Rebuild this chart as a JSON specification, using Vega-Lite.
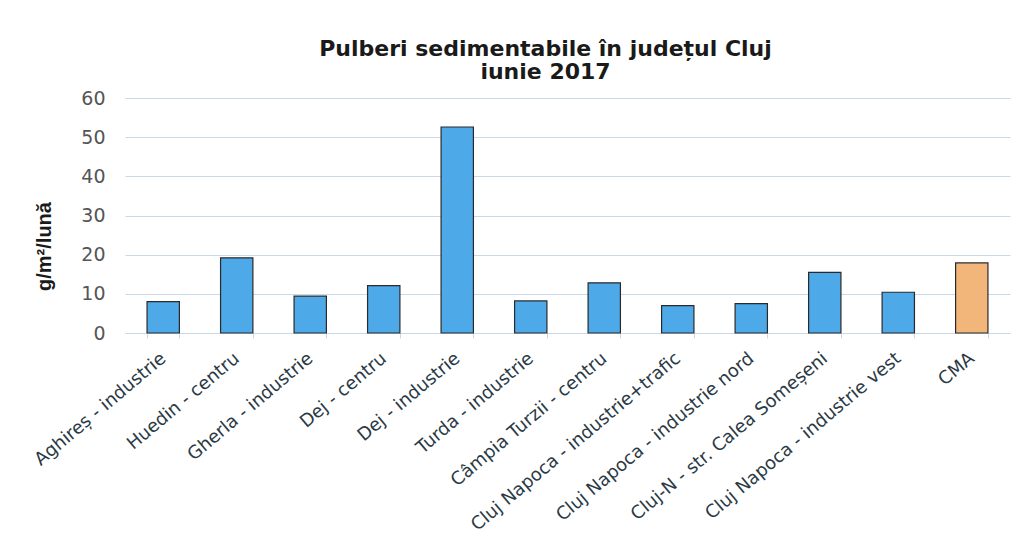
{
  "$schema": "https://vega.github.io/schema/vega-lite/v6.json",
  "width": 885,
  "height": 235,
  "autosize": "none",
  "padding": {"left": 125, "top": 98, "right": 1, "bottom": 212},
  "background": "white",
  "title": {
    "text": ["Pulberi sedimentabile în județul Cluj", "iunie 2017"],
    "font": "DejaVu Sans",
    "fontSize": 22,
    "fontWeight": "bold",
    "color": "#1a1a1a",
    "anchor": "middle",
    "dx": -22,
    "offset": 5,
    "lineHeight": 23
  },
  "data": {
    "values": [
      {"statie": "Aghireș - industrie", "valoare": 8.0, "tip": "statie"},
      {"statie": "Huedin - centru", "valoare": 19.2, "tip": "statie"},
      {"statie": "Gherla - industrie", "valoare": 9.4, "tip": "statie"},
      {"statie": "Dej - centru", "valoare": 12.1, "tip": "statie"},
      {"statie": "Dej - industrie", "valoare": 52.6, "tip": "statie"},
      {"statie": "Turda - industrie", "valoare": 8.2, "tip": "statie"},
      {"statie": "Câmpia Turzii - centru", "valoare": 12.8, "tip": "statie"},
      {"statie": "Cluj Napoca - industrie+trafic", "valoare": 7.0, "tip": "statie"},
      {"statie": "Cluj Napoca - industrie nord", "valoare": 7.5, "tip": "statie"},
      {"statie": "Cluj-N - str. Calea Someșeni", "valoare": 15.5, "tip": "statie"},
      {"statie": "Cluj Napoca - industrie vest", "valoare": 10.4, "tip": "statie"},
      {"statie": "CMA", "valoare": 17.9, "tip": "CMA"}
    ]
  },
  "mark": {"type": "bar", "stroke": "#2a2a2a", "strokeWidth": 1.2},
  "encoding": {
    "x": {
      "field": "statie",
      "type": "nominal",
      "sort": null,
      "scale": {"paddingInner": 0.56, "paddingOuter": 0.3},
      "axis": {
        "title": null,
        "labelAngle": -40,
        "labelAlign": "right",
        "labelBaseline": "middle",
        "labelFont": "DejaVu Sans",
        "labelFontSize": 18,
        "labelColor": "#2b3a45",
        "labelPadding": 18,
        "labelLimit": 320,
        "domain": true,
        "domainColor": "#c9d9ea",
        "tickBand": "extent",
        "ticks": true,
        "tickColor": "#c9d9ea",
        "tickSize": 5,
        "grid": false
      }
    },
    "y": {
      "field": "valoare",
      "type": "quantitative",
      "scale": {"domain": [0, 60]},
      "axis": {
        "title": "g/m²/lună",
        "titleFont": "Liberation Sans",
        "titleFontSize": 20,
        "titleFontWeight": "bold",
        "titleColor": "#1a1a1a",
        "titlePadding": 26,
        "titleY": 148,
        "values": [0, 10, 20, 30, 40, 50, 60],
        "labelFont": "DejaVu Sans",
        "labelFontSize": 19,
        "labelColor": "#555555",
        "labelPadding": 20,
        "domain": false,
        "ticks": false,
        "grid": true,
        "gridColor": "#c9d9ea",
        "gridWidth": 1.2
      }
    },
    "color": {
      "field": "tip",
      "type": "nominal",
      "scale": {"domain": ["statie", "CMA"], "range": ["#4ea9e8", "#f2b67a"]},
      "legend": null
    }
  },
  "config": {"view": {"stroke": null}}
}
